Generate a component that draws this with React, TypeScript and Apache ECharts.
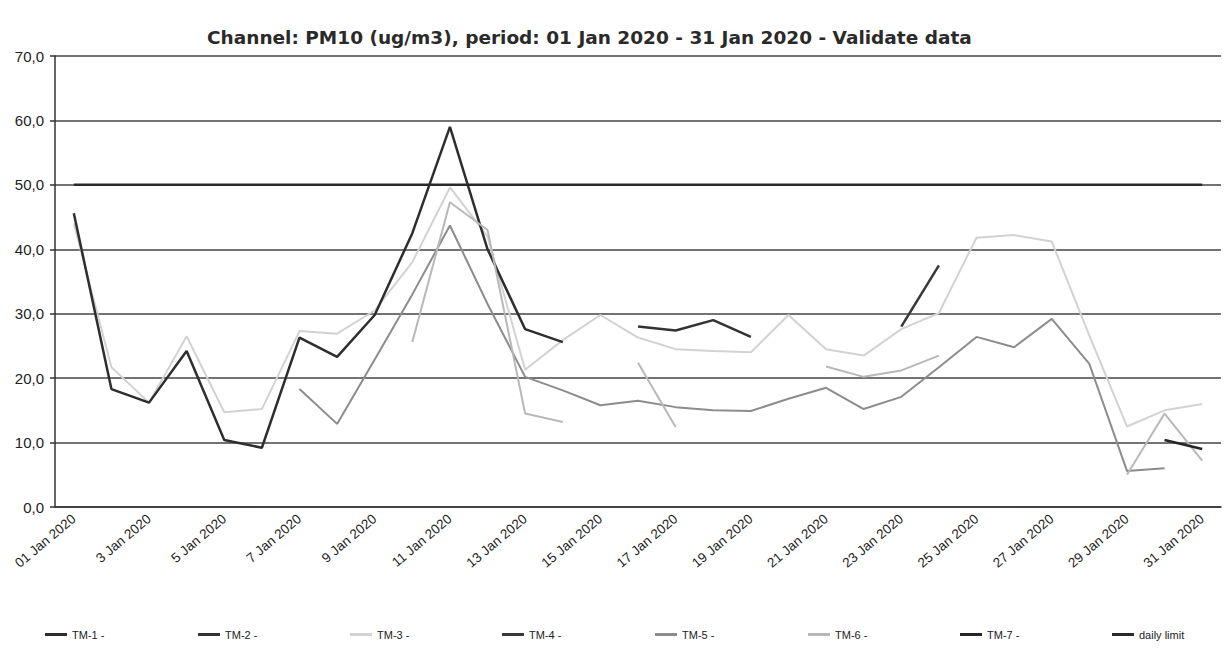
import React, { useEffect, useRef } from "react";
import * as echarts from "echarts";

const categories = [
  "01 Jan 2020", "2 Jan 2020", "3 Jan 2020", "4 Jan 2020", "5 Jan 2020", "6 Jan 2020", "7 Jan 2020",
  "8 Jan 2020", "9 Jan 2020", "10 Jan 2020", "11 Jan 2020", "12 Jan 2020", "13 Jan 2020", "14 Jan 2020",
  "15 Jan 2020", "16 Jan 2020", "17 Jan 2020", "18 Jan 2020", "19 Jan 2020", "20 Jan 2020", "21 Jan 2020",
  "22 Jan 2020", "23 Jan 2020", "24 Jan 2020", "25 Jan 2020", "26 Jan 2020", "27 Jan 2020", "28 Jan 2020",
  "29 Jan 2020", "30 Jan 2020", "31 Jan 2020",
];

const N = null;
const tm1 = [45.6, 18.3, 16.2, 24.2, 10.4, 9.2, 26.3, 23.3, 29.8, 42.5, 59.0, 40.0, 27.6, 25.6, N, N, N, N, N, N, N, N, N, N, N, N, N, N, N, N, N];
const tm2 = [N, N, N, N, N, N, N, N, N, N, N, N, N, N, N, 28.0, 27.4, 29.0, 26.4, N, N, N, N, N, N, N, N, N, N, N, N];
const tm3 = [44.0, 21.7, 16.2, 26.5, 14.7, 15.2, 27.3, 26.9, 30.5, 38.0, 49.6, 42.0, 21.3, 25.9, 29.8, 26.3, 24.5, 24.2, 24.0, 29.8, 24.5, 23.5, 27.6, 30.1, 41.8, 42.2, 41.2, 26.6, 12.5, 15.0, 16.0];
const tm4 = [N, N, N, N, N, N, N, N, N, N, N, N, N, N, N, N, N, N, N, N, N, N, 28.0, 37.5, N, N, N, N, N, N, N];
const tm5 = [N, N, N, N, N, N, 18.3, 12.9, 22.9, 33.0, 43.7, 31.5, 20.2, 18.1, 15.8, 16.5, 15.5, 15.0, 14.9, 16.8, 18.5, 15.2, 17.1, 21.7, 26.4, 24.8, 29.2, 22.2, 5.6, 6.0, N];
const tm6 = [N, N, N, N, N, N, N, N, N, 25.6, 47.3, 43.0, 14.5, 13.2, N, 22.4, 12.4, N, N, N, 21.8, 20.2, 21.2, 23.5, N, N, N, N, 5.0, 14.5, 7.2];
const tm7 = [N, N, N, N, N, N, N, N, N, N, N, N, N, N, N, N, N, N, N, N, N, N, N, N, N, N, N, N, N, 10.4, 9.0];
const dailyLimit = [50, 50, 50, 50, 50, 50, 50, 50, 50, 50, 50, 50, 50, 50, 50, 50, 50, 50, 50, 50, 50, 50, 50, 50, 50, 50, 50, 50, 50, 50, 50];

const seriesNames = ["TM-1 -", "TM-2 -", "TM-3 -", "TM-4 -", "TM-5 -", "TM-6 -", "TM-7 -", "daily limit"];
const seriesData = [tm1, tm2, tm3, tm4, tm5, tm6, tm7, dailyLimit];
const seriesColors = ["#2e2e2e", "#333333", "#d2d2d2", "#383838", "#8c8c8c", "#b8b8b8", "#262626", "#2a2a2a"];
const seriesWidths = [2.5, 2.5, 2, 2.5, 2, 2, 2.5, 2.5];
const legendLefts = [40, 193, 345, 497, 650, 803, 955, 1107];

export default function App() {
  const ref = useRef<HTMLDivElement>(null);
  useEffect(() => {
    if (!ref.current) return;
    const chart = echarts.init(ref.current, null, { renderer: "svg" });
    const font = "'Liberation Sans', Arial, sans-serif";
    chart.setOption({
      animation: false,
      backgroundColor: "#ffffff",
      title: {
        text: "Channel: PM10 (ug/m3), period: 01 Jan 2020 - 31 Jan 2020 - Validate data",
        left: 202,
        top: 23,
        textStyle: { fontFamily: "'DejaVu Sans', Verdana, sans-serif", fontSize: 18.5, fontWeight: "bold", color: "#2a2a2a" },
      },
      legend: seriesNames.map((n, i) => ({
        data: [n],
        left: legendLefts[i],
        top: 624,
        icon: "rect",
        itemWidth: 22,
        itemHeight: 3,
        itemGap: 4,
        textStyle: { fontFamily: font, fontSize: 11, color: "#222" },
      })),
      grid: { left: 55, right: 7, top: 56, bottom: 148, containLabel: false },
      xAxis: {
        type: "category",
        data: categories,
        boundaryGap: true,
        axisLine: { show: true, lineStyle: { color: "#333", width: 1.5 } },
        axisTick: { show: false },
        axisLabel: {
          interval: 1,
          rotate: 40,
          margin: 10,
          fontFamily: font,
          fontSize: 13.5,
          color: "#222",
        },
      },
      yAxis: {
        type: "value",
        min: 0,
        max: 70,
        interval: 10,
        axisLine: { show: true, lineStyle: { color: "#333", width: 1.5 } },
        axisTick: { show: true, inside: false, length: 5, lineStyle: { color: "#333", width: 1.5 } },
        axisLabel: {
          margin: 11,
          fontFamily: font,
          fontSize: 15,
          color: "#222",
          formatter: (v: number) => v.toFixed(1).replace(".", ","),
        },
        splitLine: { show: true, lineStyle: { color: "#444", width: 1.5 } },
      },
      series: seriesNames.map((n, i) => ({
        name: n,
        type: "line",
        data: seriesData[i],
        showSymbol: false,
        symbol: "none",
        connectNulls: false,
        color: seriesColors[i],
        lineStyle: { color: seriesColors[i], width: seriesWidths[i] },
        z: i === 7 ? 3 : i === 2 ? 1 : 2,
      })),
    });
    return () => chart.dispose();
  }, []);
  return <div ref={ref} style={{ position: "fixed", left: 0, top: 0, width: 1228, height: 655 }} />;
}
